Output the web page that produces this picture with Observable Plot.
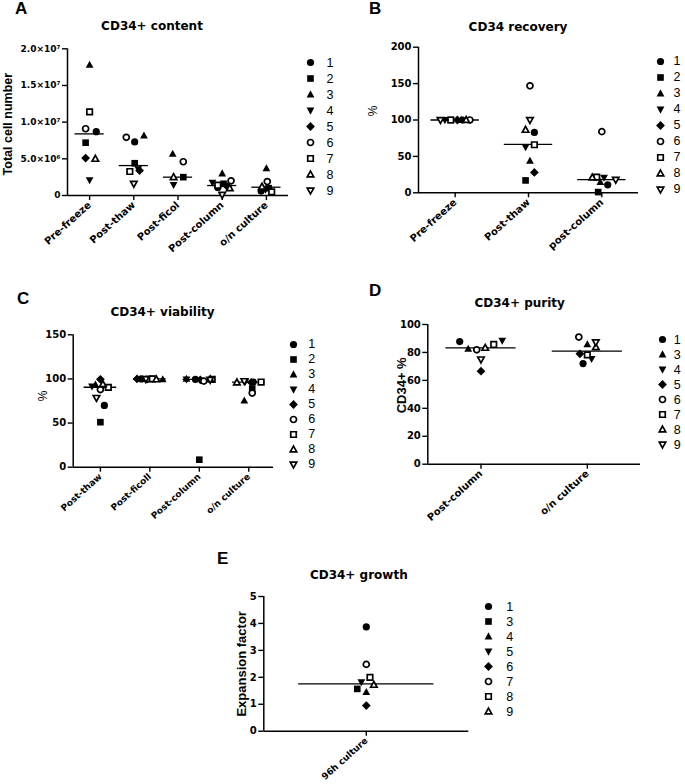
<!DOCTYPE html>
<html><head><meta charset="utf-8">
<script src="https://cdn.jsdelivr.net/npm/d3@7"></script>
<script src="https://cdn.jsdelivr.net/npm/@observablehq/plot@0.6"></script>
<style>
html,body{margin:0;padding:0;background:#fff;}
#page{position:relative;width:685px;height:784px;overflow:hidden;font-family:"Liberation Sans",Arial,sans-serif;background:#fff;}
.abs{position:absolute;white-space:nowrap;}
.letter{font-weight:bold;font-size:17px;line-height:17px;}
.title{font-family:"DejaVu Sans",sans-serif;font-weight:bold;font-size:12px;line-height:12px;transform:translateX(-50%);}
.pp{position:absolute;overflow:visible;}
.pp g[aria-label*="axis"] path,.pp g[aria-label*="axis"] line{stroke-width:1.4px;}
</style></head><body><div id="page"></div>
<script>
// ---------------- data ----------------
const shapeNames = ["circle","square","triangle","triangleDown","diamond","circleOpen","squareOpen","triangleOpen","triangleDownOpen"];
const allPatients = ["1","2","3","4","5","6","7","8","9"];

// A: CD34+ content
const aTitle = "CD34+ content";
const aCategories = ["Pre-freeze","Post-thaw","Post-ficol","Post-column","o/n culture"];
const aValues = [
  [8.7e6, 7.2e6, 1.78e7, 2.1e6, 5.1e6, 9.1e6, 1.14e7, 5.0e6, null],
  [7.3e6, 4.4e6, 8.16e6, 3.6e6, 3.4e6, 7.93e6, 3.27e6, null, 1.6e6],
  [null, 2.5e6, 5.67e6, 1.45e6, null, 4.6e6, null, 2.5e6, null],
  [1.1e6, 1.6e6, 3.0e6, 1.75e6, 1.2e6, 2.0e6, 1.4e6, 1.0e6, 0.1e6],
  [0.6e6, 1.0e6, 3.7e6, 0.8e6, 0.9e6, 1.9e6, 0.5e6, 1.2e6, null]
];
const aJitter = [
  [0.15, -0.09, 0, 0, -0.09, -0.09, 0, 0.13, 0],
  [0.02, 0.02, 0.23, 0.1, 0.13, -0.17, -0.09, 0, 0],
  [0, 0.12, -0.12, -0.1, 0, 0.12, 0, -0.1, 0],
  [-0.1, 0.03, 0, -0.22, 0.12, 0.2, -0.1, 0.17, 0],
  [-0.12, 0.05, 0, -0.02, -0.08, 0.02, 0.12, -0.1, 0]
];
const aMedians = [8.4e6, 4.08e6, 2.5e6, 1.36e6, 1.13e6];
const aTicks = [0, 5e6, 1e7, 1.5e7, 2e7];

// B: CD34 recovery
const bTitle = "CD34 recovery";
const bCategories = ["Pre-freeze","Post-thaw","post-column"];
const bValues = [
  [100, 100, 100, 100, 100, 100, 100, 100, 100],
  [83, 17, 44, 62.7, 28, 147, 66, 86.5, 100],
  [11, 1, 14.6, 21, null, 84, 21.5, 21, 18]
];
const bJitter = [
  [0.1, -0.06, 0.08, -0.14, 0.03, 0.2, -0.06, 0.15, -0.2],
  [0.08, -0.04, 0.02, -0.04, 0.08, 0.02, 0.08, -0.04, 0.02],
  [0.08, -0.05, -0.02, 0.03, 0, 0, -0.07, -0.13, 0.19]
];
const bMedians = [100, 66.4, 18];
const bTicks = [0, 50, 100, 150, 200];

// C: CD34+ viability
const cTitle = "CD34+ viability";
const cCategories = ["Post-thaw","Post-ficoll","Post-column","o/n culture"];
const cValues = [
  [70, 51, 93.5, 91.5, 99.5, 88, 90.5, 94, 78.5],
  [100, 100, 99.5, 100, 100, 99.5, 100, 99.5, 100],
  [99.5, 8.5, 100, 99.5, 99, 97.5, 99.5, 99.5, 99],
  [96.5, 89, 75.5, 97, 96, 84, 96.5, 96, 97.5]
];
const cJitter = [
  [0.08, 0, -0.1, -0.17, 0, 0, 0.16, 0.05, -0.08],
  [-0.17, 0.05, 0.26, -0.06, -0.26, -0.06, 0.05, 0.13, -0.08],
  [-0.08, 0, -0.26, -0.26, 0.02, 0.09, 0.26, 0.22, 0.22],
  [0.09, 0.07, -0.09, -0.07, 0.05, 0.07, 0.25, -0.24, -0.09]
];
const cMedians = [90.6, 100, 99.4, 96.3];
const cTicks = [0, 50, 100, 150];

// D: CD34+ purity
const dTitle = "CD34+ purity";
const dCategories = ["Post-column","o/n culture"];
const dPatients = ["1","3","4","5","6","7","8","9"];
const dShapes = ["circle","triangle","triangleDown","diamond","circleOpen","squareOpen","triangleOpen","triangleDownOpen"];
const dValues = [
  [87.8, 82.6, 88.5, 66.6, 81.9, 85.7, 83.3, 75],
  [72, 85.7, 75.4, 79, 91, 78.3, 83.8, 87.3]
];
const dJitter = [
  [-0.2, -0.12, 0.2, 0, -0.04, 0.12, 0.04, 0],
  [-0.04, 0, 0.04, -0.07, -0.08, 0, 0.08, 0.08]
];
const dMedians = [83.3, 81];
const dTicks = [0, 20, 40, 60, 80, 100];

// E: CD34+ growth
const eTitle = "CD34+ growth";
const eCategories = ["96h culture"];
const ePatients = ["1","3","4","5","6","7","8","9"];
const eShapes = ["circle","square","triangle","triangleDown","diamond","circleOpen","squareOpen","triangleOpen"];
const eValues = [[3.87, 1.57, 1.45, 1.82, 0.95, 2.48, 2.0, 1.72]];
const eJitter = [[0, -0.044, 0, -0.024, 0, 0, 0.018, 0.037]];
const eMedians = [1.76];
const eTicks = [0, 1, 2, 3, 4, 5];

// ---------------- symbols ----------------
const R = s => Math.sqrt(s / Math.PI);
const symCircle = {draw(c, s) { const r = R(s); c.moveTo(r, 0); c.arc(0, 0, r, 0, 2 * Math.PI); }};
const symSquare = {draw(c, s) { const h = R(s) * 0.92; c.moveTo(-h, -h); c.lineTo(h, -h); c.lineTo(h, h); c.lineTo(-h, h); c.closePath(); }};
const symTriUp = {draw(c, s) { const r = R(s); c.moveTo(0, -1.15 * r); c.lineTo(1.08 * r, 0.8 * r); c.lineTo(-1.08 * r, 0.8 * r); c.closePath(); }};
const symTriDown = {draw(c, s) { const r = R(s); c.moveTo(0, 1.15 * r); c.lineTo(1.08 * r, -0.8 * r); c.lineTo(-1.08 * r, -0.8 * r); c.closePath(); }};
const symDiamond = {draw(c, s) { const r = R(s) * 1.22; c.moveTo(0, -r); c.lineTo(r, 0); c.lineTo(0, r); c.lineTo(-r, 0); c.closePath(); }};
const symbolScale = {
  domain: shapeNames,
  range: [symCircle, symSquare, symTriUp, symTriDown, symDiamond, symCircle, symSquare, symTriUp, symTriDown]
};
const isOpen = s => s.endsWith("Open");

const FONT = '"DejaVu Sans", sans-serif';
const LFONT = '"Liberation Sans", Arial, sans-serif';
const page = document.getElementById("page");

function addText(cls, txt, left, top) {
  const d = document.createElement("div");
  d.className = "abs " + cls;
  d.textContent = txt;
  d.style.left = left + "px";
  d.style.top = top + "px";
  page.appendChild(d);
}

function place(svg, left, top) {
  svg.classList.add("pp");
  svg.style.left = left + "px";
  svg.style.top = top + "px";
  page.appendChild(svg);
}

function dotMarks(rows, xk, yk, extra) {
  return [
    Plot.dot(rows.filter(d => !isOpen(d.shape)), {x: xk, y: yk, symbol: "shape", r: 3.6, fill: "black", stroke: "none", ...extra}),
    Plot.dot(rows.filter(d => isOpen(d.shape)), {x: xk, y: yk, symbol: "shape", r: 3.0, fill: "white", stroke: "black", strokeWidth: 1.7, ...extra})
  ];
}

function panel(o) {
  const [fx0, fy0, fx1, fy1] = o.frame;
  const [bx0, by0, bx1, by1] = o.box;
  const rows = [];
  o.values.forEach((arr, i) => arr.forEach((v, k) => {
    if (v != null) rows.push({x: i + o.jitter[i][k], y: v, shape: o.shapes[k], patient: o.patients[k]});
  }));
  const med = o.medians.map((v, i) => ({i, v}));
  const svg = Plot.plot({
    width: bx1 - bx0, height: by1 - by0,
    marginLeft: fx0 - bx0, marginRight: bx1 - fx1, marginTop: fy0 - by0, marginBottom: by1 - fy1,
    style: {background: "transparent", fontFamily: FONT, fontSize: "10px", fontWeight: "bold", color: "black", overflow: "visible"},
    x: {type: "linear", domain: o.xDomain, ticks: d3.range(o.categories.length), tickFormat: i => o.categories[i],
        tickRotate: -42, tickSize: 5, tickPadding: 3, label: null},
    y: {domain: [o.yTicks[0], o.yTicks[o.yTicks.length - 1]], ticks: o.yTicks, tickFormat: o.yFormat || (d => String(d)),
        tickSize: 5, tickPadding: 2, label: null},
    symbol: symbolScale,
    marks: [
      Plot.ruleX([o.xDomain[0]], {stroke: "black", strokeWidth: 1.5}),
      Plot.ruleY([o.yTicks[0]], {stroke: "black", strokeWidth: 1.5}),
      Plot.ruleY(med, {y: "v", x1: d => d.i - 0.33, x2: d => d.i + 0.33, stroke: "black", strokeWidth: 1.3}),
      ...dotMarks(rows, "x", "y", {}),
      Plot.text([o.yLabel], {text: d => d, frameAnchor: "left", rotate: -90, textAnchor: "middle", fontFamily: LFONT,
        dx: o.yLabelDx, dy: o.yLabelDy || 0, fontSize: o.yLabelSize || 12.5, fontWeight: o.yLabelWeight || "bold", fill: "black"})
    ]
  });
  svg.querySelectorAll('g[aria-label="x-axis tick label"]').forEach(n => n.setAttribute("font-size", o.xTickSize || 10));
  if (o.yTickSize) svg.querySelectorAll('g[aria-label="y-axis tick label"]').forEach(n => n.setAttribute("font-size", o.yTickSize));
  place(svg, bx0, by0);
}

function legend(o) {
  const n = o.labels.length;
  const items = o.labels.map((l, k) => ({key: k, label: l, shape: o.shapes[k]}));
  const left = o.symX - 10, top = o.yTop - 10;
  const w = 40, h = o.yBottom - o.yTop + 20;
  const svg = Plot.plot({
    width: w, height: h, marginLeft: 10, marginRight: w - 20, marginTop: 10, marginBottom: 10,
    style: {background: "transparent", fontFamily: LFONT, overflow: "visible", color: "black"},
    y: {type: "point", domain: d3.range(n), padding: 0, axis: null},
    symbol: symbolScale,
    marks: [
      Plot.dot(items.filter(d => !isOpen(d.shape)), {y: "key", symbol: "shape", r: 3.6, fill: "black", stroke: "none", frameAnchor: "left"}),
      Plot.dot(items.filter(d => isOpen(d.shape)), {y: "key", symbol: "shape", r: 3.0, fill: "white", stroke: "black", strokeWidth: 1.7, frameAnchor: "left"}),
      Plot.text(items, {y: "key", text: "label", frameAnchor: "left", dx: o.labelX - o.symX,
        textAnchor: "start", fontSize: 12.5, fill: "black"})
    ]
  });
  place(svg, left, top);
}

const sup = {"6": "\u2076", "7": "\u2077"};
const sciFormat = d => {
  if (d === 0) return "0";
  const e = Math.floor(Math.log10(d) + 1e-9);
  return (d / 10 ** e).toFixed(1) + "\u00d710" + String(e).split("").map(c => sup[c] || c).join("");
};

// ---------------- panels ----------------
// A
addText("letter", "A", 15, 0);
addText("title", aTitle, 152, 20);
panel({frame: [67, 48.3, 288, 195], box: [0, 40, 300, 270], categories: aCategories, values: aValues, jitter: aJitter,
  medians: aMedians, patients: allPatients, shapes: shapeNames, xDomain: [-0.5, 4.5], yTicks: aTicks, yFormat: sciFormat,
  yTickSize: 9, yLabel: "Total cell number", yLabelDx: -60, yLabelDy: 2});
legend({labels: allPatients, shapes: shapeNames, symX: 310, labelX: 326, yTop: 57.7, yBottom: 192.7});

// B
addText("letter", "B", 369, 0);
addText("title", bTitle, 518, 21);
panel({frame: [418, 46.7, 638, 192.3], box: [345, 40, 650, 270], categories: bCategories, values: bValues, jitter: bJitter,
  medians: bMedians, patients: allPatients, shapes: shapeNames, xDomain: [-0.5, 2.5], yTicks: bTicks,
  yLabel: "%", yLabelDx: -45, yLabelDy: -9, yLabelWeight: "normal", yLabelSize: 12});
legend({labels: allPatients, shapes: shapeNames, symX: 660, labelX: 673, yTop: 57.3, yBottom: 192.7});

// C
addText("letter", "C", 17, 290);
addText("title", cTitle, 162.5, 306);
panel({frame: [72.7, 334.3, 273, 466.7], box: [0, 325, 285, 520], categories: cCategories, values: cValues, jitter: cJitter,
  medians: cMedians, patients: allPatients, shapes: shapeNames, xDomain: [-0.55, 3.5], yTicks: cTicks,
  xTickSize: 9, yLabel: "%", yLabelDx: -30, yLabelDy: -5, yLabelWeight: "normal", yLabelSize: 12});
legend({labels: allPatients, shapes: shapeNames, symX: 293.3, labelX: 308, yTop: 342.7, yBottom: 464.3});

// D
addText("letter", "D", 369, 282);
addText("title", dTitle, 519.7, 297);
panel({frame: [427.3, 324, 640, 463.7], box: [345, 315, 650, 540], categories: dCategories, values: dValues, jitter: dJitter,
  medians: dMedians, patients: dPatients, shapes: dShapes, xDomain: [-0.5, 1.5], yTicks: dTicks,
  yLabel: "CD34+ %", yLabelDx: -26, yLabelDy: -9, yLabelSize: 13});
legend({labels: dPatients, shapes: dShapes, symX: 661.7, labelX: 673, yTop: 336, yBottom: 446});

// E
addText("letter", "E", 217, 550);
addText("title", eTitle, 358.8, 569);
panel({frame: [263.3, 596, 468.3, 730.7], box: [200, 588, 480, 784], categories: eCategories, values: eValues, jitter: eJitter,
  medians: eMedians, patients: ePatients, shapes: eShapes, xDomain: [-0.5, 0.5], yTicks: eTicks,
  xTickSize: 9, yLabel: "Expansion factor", yLabelDx: -22, yLabelDy: 0, yLabelSize: 13});
legend({labels: ePatients, shapes: eShapes, symX: 488.3, labelX: 506, yTop: 604.3, yBottom: 713.3});
</script></body></html>
